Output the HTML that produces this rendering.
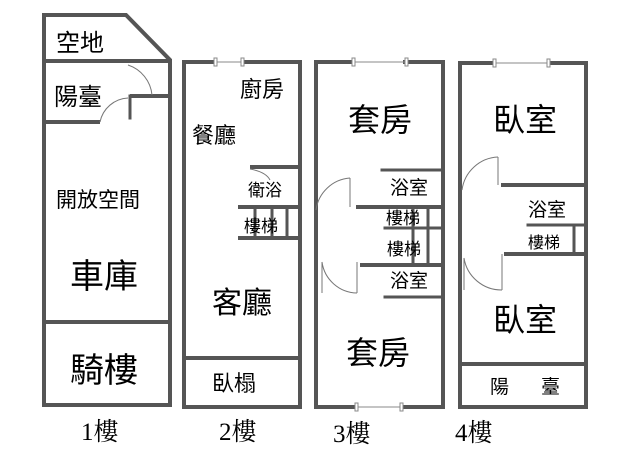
<!DOCTYPE html><html><head><meta charset="utf-8"><style>body{margin:0;background:#fff}svg{display:block}text{font-family:"Liberation Sans","Noto Sans CJK TC",sans-serif;fill:#000}text.s{font-family:"Liberation Serif","Noto Serif CJK SC",serif}</style></head><body>
<svg width="640" height="461" viewBox="0 0 640 461">
<g stroke="#555" stroke-width="4" fill="none" stroke-linecap="square">
<polyline points="44,405 44,15 126,15 170,60 170,405 44,405"/>
<line x1="44" y1="61" x2="170" y2="61"/>
<line x1="44" y1="122" x2="98" y2="122"/>
<line x1="132" y1="96" x2="168" y2="96"/>
<line x1="130" y1="96" x2="130" y2="118" stroke-width="3"/>
<line x1="44" y1="322" x2="170" y2="322"/>
<polyline points="214,62 184,62 184,407 300,407 300,62 244,62"/>
<line x1="184" y1="358" x2="300" y2="358"/>
<line x1="252" y1="167" x2="300" y2="167"/>
<line x1="240" y1="207" x2="300" y2="207"/>
<line x1="240" y1="238" x2="300" y2="238"/>
<line x1="255" y1="207" x2="255" y2="238" stroke-width="3"/>
<line x1="272" y1="207" x2="272" y2="238" stroke-width="3"/>
<line x1="287" y1="207" x2="287" y2="238" stroke-width="3"/>
<polyline points="352,62 316,62 316,407 355,407"/><polyline points="405,62 443,62 443,407 402,407"/>
<line x1="382" y1="170" x2="443" y2="170" stroke-width="3"/>
<line x1="358" y1="207" x2="443" y2="207"/>
<line x1="385" y1="228" x2="443" y2="228" stroke-width="3"/>
<line x1="362" y1="265" x2="443" y2="265"/>
<line x1="385" y1="297" x2="443" y2="297" stroke-width="3"/>
<line x1="428" y1="207" x2="428" y2="265" stroke-width="3"/>
<line x1="413" y1="207" x2="413" y2="265" stroke-width="3"/>
<polyline points="460,407 460,63 493,63"/><polyline points="550,63 586,63 586,407 460,407"/>
<line x1="503" y1="185" x2="586" y2="185"/>
<line x1="528" y1="225" x2="586" y2="225" stroke-width="3"/>
<line x1="506" y1="254" x2="586" y2="254"/>
<line x1="574" y1="225" x2="574" y2="254" stroke-width="3"/>
<line x1="460" y1="364" x2="586" y2="364"/>
</g>
<g stroke="#888" stroke-width="1" fill="#fff">
<rect x="214" y="58" width="3" height="8"/><rect x="241" y="58" width="3" height="8"/>
<line x1="217" y1="62" x2="241" y2="62"/>
<rect x="352" y="58" width="3" height="8"/><rect x="405" y="58" width="3" height="8"/>
<line x1="355" y1="62" x2="405" y2="62"/>
<rect x="493" y="59" width="3" height="8"/><rect x="547" y="59" width="3" height="8"/>
<line x1="496" y1="63" x2="547" y2="63"/>
<rect x="355" y="403" width="3" height="8"/><rect x="400" y="403" width="3" height="8"/>
<line x1="358" y1="407" x2="400" y2="407"/>
</g>
<g stroke="#777" stroke-width="1" fill="none">
<path d="M128,65 A35,35 0 0 1 152,95"/>
<path d="M128,98 A30,30 0 0 0 100,122"/>
<path d="M250,169 Q266,172 270,180"/>
<path d="M350,178 A37,37 0 0 0 316,210"/>
<path d="M350,178 L350,207"/>
<path d="M322,262 A36,36 0 0 0 357,293"/>
<path d="M322,262 L322,293 M357,262 L357,293"/>
<path d="M498,157 A38,38 0 0 0 462,190"/>
<path d="M498,157 L498,185"/>
<path d="M464,258 A38,38 0 0 0 502,290"/>
<path d="M464,258 L464,290 M502,254 L502,290"/>
</g>
<g font-size="24">
<text x="56" y="51">空地</text>
<text x="54" y="105">陽臺</text>
<text x="56" y="207" font-size="21">開放空間</text>
<text x="70" y="288" font-size="34">車庫</text>
<text x="70" y="382" font-size="34">騎樓</text>
<text x="240" y="97" font-size="22">廚房</text>
<text x="192" y="143" font-size="22">餐廳</text>
<text x="248" y="196" font-size="17">衛浴</text>
<text x="244" y="232" font-size="17">樓梯</text>
<text x="212" y="313" font-size="30">客廳</text>
<text x="212" y="391" font-size="22">臥榻</text>
<text x="348" y="131" font-size="32">套房</text>
<text x="390" y="194" font-size="19">浴室</text>
<text x="386" y="224" font-size="17">樓梯</text>
<text x="387" y="255" font-size="17">樓梯</text>
<text x="390" y="287" font-size="19">浴室</text>
<text x="346" y="364" font-size="32">套房</text>
<text x="493" y="131" font-size="32">臥室</text>
<text x="528" y="216" font-size="19">浴室</text>
<text x="528" y="248" font-size="16">樓梯</text>
<text x="493" y="331" font-size="32">臥室</text>
<text x="490" y="393" font-size="19">陽</text>
<text x="541" y="393" font-size="19">臺</text>
<text class="s" x="81" y="440" font-size="25">1樓</text>
<text class="s" x="219" y="440" font-size="25">2樓</text>
<text class="s" x="333" y="442" font-size="25">3樓</text>
<text class="s" x="455" y="441" font-size="25">4樓</text>
</g>
</svg></body></html>
